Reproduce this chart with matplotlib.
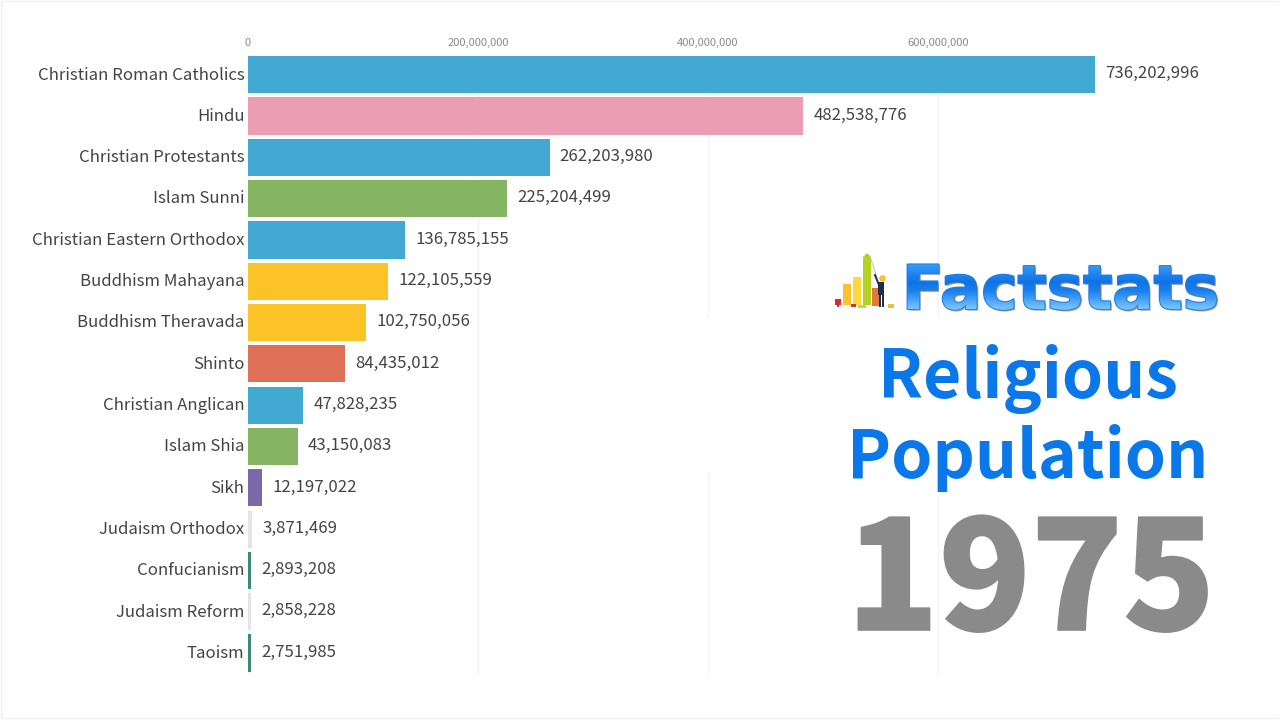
import matplotlib
matplotlib.use("Agg")
import matplotlib.pyplot as plt
import numpy as np
from matplotlib.font_manager import FontProperties
from matplotlib.patches import PathPatch, Rectangle, Polygon
from matplotlib.textpath import TextPath
from matplotlib.transforms import Affine2D, ScaledTranslation
import matplotlib.patheffects as pe

plt.rcParams["font.family"] = ["Noto Sans CJK JP", "DejaVu Sans"]

W, H = 1280, 720

# data
religions = ["Christian Roman Catholics", "Hindu", "Christian Protestants", "Islam Sunni",
             "Christian Eastern Orthodox", "Buddhism Mahayana", "Buddhism Theravada", "Shinto",
             "Christian Anglican", "Islam Shia", "Sikh", "Judaism Orthodox", "Confucianism",
             "Judaism Reform", "Taoism"]
population = [736202996, 482538776, 262203980, 225204499, 136785155, 122105559, 102750056,
              84435012, 47828235, 43150083, 12197022, 3871469, 2893208, 2858228, 2751985]
bar_colors = ["#42A9D3", "#EA9DB3", "#42A9D3", "#85B462", "#42A9D3", "#FBC326", "#FBC326",
              "#DF7058", "#42A9D3", "#85B462", "#7B68A8", "#E4E4E4", "#3A8A74", "#E4E4E4", "#3A8A74"]
tick_values = [0, 200000000, 400000000, 600000000]
year = "1975"

fig = plt.figure(figsize=(W / 100, H / 100), dpi=100, facecolor="white")

# main chart, placed in pixels: 230px per 200M, rows 41.3px apart
top, bottom = 54.05, 673.7
ax = fig.add_axes([248 / W, 1 - bottom / H, (W - 248) / W, (bottom - top) / H])
ax.set_xlim(0, (W - 248) / 230 * 200000000)
ax.set_ylim(len(religions) - 0.5, -0.5)
ax.patch.set_alpha(0)
ax.barh(religions, population, height=0.9, color=bar_colors, zorder=3)
ax.set_xticks(tick_values)
ax.set_xticklabels([f"{v:,}" for v in tick_values])
ax.xaxis.tick_top()
ax.tick_params(axis="x", length=0, labelsize=8, labelcolor="#8a8a8a", pad=4)
ax.tick_params(axis="y", length=0, labelsize=12.1, labelcolor="#444444", pad=2.5)
for lab in ax.get_yticklabels():
    lab.set_transform(lab.get_transform() + ScaledTranslation(0, 1.7 / 100, fig.dpi_scale_trans))
ax.grid(axis="x", color="#f3f3f3", lw=1.0, zorder=0)
ax.grid(axis="y", visible=False)
for s in ax.spines.values():
    s.set_visible(False)
for i, v in enumerate(population):
    ax.annotate(f"{v:,}", (v, i), xytext=(7.4, 0.6), textcoords="offset points", va="center",
                ha="left", fontsize=12.1, color="#444444", zorder=4)

# overlay in image pixels for the title block and logo
ov = fig.add_axes([0, 0, 1, 1])
ov.set_xlim(0, W)
ov.set_ylim(H, 0)
ov.axis("off")
ov.patch.set_alpha(0)

# white boxes behind the title hide the grid lines
ov.add_patch(Rectangle((600, 318), 670, 155, fc="white", ec="none", zorder=1))
ov.add_patch(Rectangle((900, 473), 370, 22, fc="white", ec="none", zorder=1))

# outer border of the frame
ov.add_patch(Rectangle((0.5, 0.5), W - 1, H - 2.5, fc="none", ec="#f0f0f0", lw=1.0, zorder=1))

ov.text(1027.5, 398, "Religious", ha="center", va="baseline", fontsize=47.5, weight="bold",
        color="#0A78E8", zorder=3)
ov.text(1027.5, 478, "Population", ha="center", va="baseline", fontsize=47.5, weight="bold",
        color="#0A78E8", zorder=3)
ov.text(1031, 630, year, ha="center", va="baseline", fontsize=109, weight=900,
        color="#8a8a8a", zorder=3,
        path_effects=[pe.withStroke(linewidth=1.2, foreground="#8a8a8a")])

# logo word, real text with a gradient laid over the same outline
logo_x, logo_y, logo_size = 902, 309, 44
logo_font = FontProperties(family="DejaVu Sans", weight="bold")
ov.text(logo_x, logo_y, "Factstats", fontproperties=logo_font, fontsize=logo_size, color="#1C7DE6",
        ha="left", va="baseline", zorder=3,
        path_effects=[pe.withStroke(linewidth=1.5, foreground="#1C7DE6"),
                      pe.withSimplePatchShadow(offset=(1.2, -1.2), shadow_rgbFace="#6a7f96", alpha=0.7)])
tp = TextPath((0, 0), "Factstats", size=logo_size * 100 / 72, prop=logo_font)
tp = tp.transformed(Affine2D().scale(1, -1).translate(logo_x, logo_y))
grad = np.array([[0.20, 0.60, 0.97], [0.12, 0.52, 0.94], [0.06, 0.45, 0.90], [0.10, 0.50, 0.93],
                 [0.25, 0.62, 0.97], [0.45, 0.75, 0.99]])[:, None, :]
im = ov.imshow(grad, extent=(logo_x, 1225, logo_y + 2, 262), aspect="auto", interpolation="bilinear",
               zorder=4)
clip = PathPatch(tp, transform=ov.transData, fc="none", ec="none")
ov.add_patch(clip)
im.set_clip_path(clip)
ov.set_xlim(0, W)
ov.set_ylim(H, 0)

# logo icon: little chart and painter
icon_bars = [(843, 284, 8, 21, "#FBC22E"), (853, 277, 8, 28, "#FFD93B"), (863, 257, 8, 48, "#B5D21E"),
             (872, 288, 7, 18, "#E2793A"), (835, 299, 6, 6, "#E02B2B"), (851, 304, 5, 3, "#C8323A"),
             (858, 305, 8, 3, "#C8D24A"), (888, 304, 6, 4, "#D8C83A")]
for x, y, w, h, c in icon_bars:
    ov.add_patch(Rectangle((x, y), w, h, fc=c, ec="none", zorder=3))
ov.add_patch(Rectangle((837, 304), 2, 3, fc="#E02B2B", ec="none", zorder=3))
ov.add_patch(Polygon([(863, 257), (867, 253), (871, 257)], fc="#B5D21E", ec="none", zorder=3))
ov.plot([870, 877], [256, 278], color="#c8c8c8", lw=0.8, zorder=3)
ov.add_patch(Rectangle((878, 282), 6, 13, fc="#1E2F4A", ec="none", zorder=4))
ov.add_patch(Rectangle((879, 295), 2, 12, fc="#1E2F4A", ec="none", zorder=4))
ov.add_patch(Rectangle((882, 295), 2, 12, fc="#1E2F4A", ec="none", zorder=4))
ov.plot([875, 879], [275, 285], color="#1E2F4A", lw=1.4, zorder=4)
ov.scatter([882], [278], s=14, color="#F2C230", zorder=5)

fig.savefig("out.png", dpi=100, facecolor="white")
